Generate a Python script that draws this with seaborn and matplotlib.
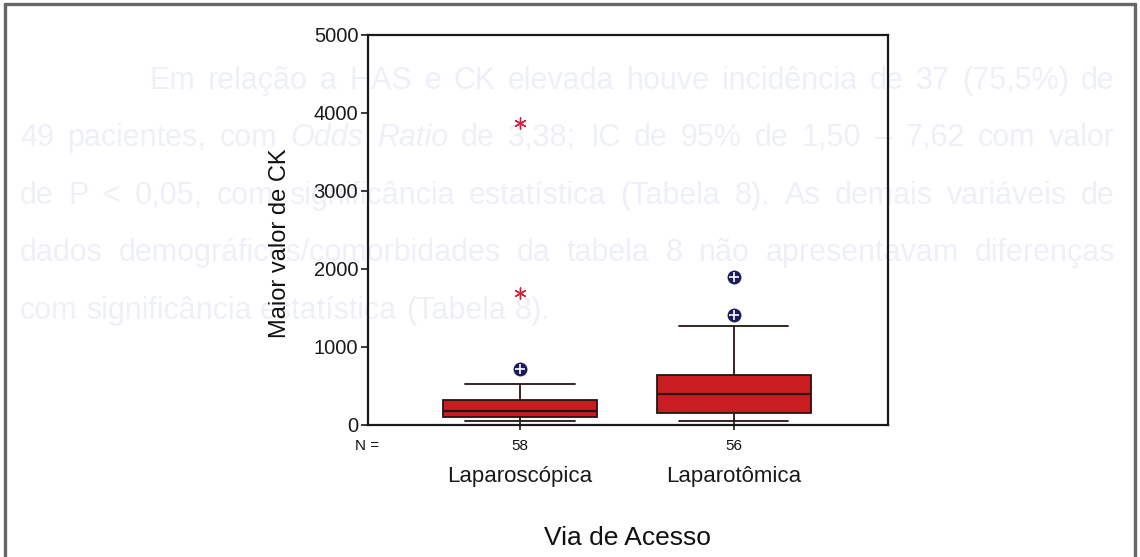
import matplotlib
matplotlib.use("Agg")
import matplotlib.pyplot as plt
import seaborn as sns
import pandas as pd
from matplotlib.lines import Line2D
from matplotlib.transforms import blended_transform_factory

# ---- data -------------------------------------------------------------
groups = ["Laparoscópica", "Laparotômica"]
group_n = [58, 56]
# lower whisker, lower hinge, median, upper hinge, upper whisker
lap_box = [50, 100, 180, 320, 525]
lpt_box = [45, 160, 395, 640, 1265]
# outliers (circles) and extreme values (asterisks)
lap_outliers = [715]
lap_extremes = [1690, 3870]
lpt_outliers = [1405, 1900]
lpt_extremes = []
y_ticks = [0, 1000, 2000, 3000, 4000, 5000]

page_lines = [
    "Em relação a HAS e CK elevada houve incidência de 37 (75,5%) de",
    "49 pacientes, com |Odds Ratio| de 3,38; IC de 95% de 1,50 – 7,62 com valor",
    "de P < 0,05, com significância estatística (Tabela 8). As demais variáveis de",
    "dados demográficos/comorbidades da tabela 8 não apresentavam diferenças",
    "com significância estatística (Tabela 8).",
]

# ---- styling ----------------------------------------------------------
sns.set_style("white")
plt.rcParams["font.family"] = ["Liberation Sans", "DejaVu Sans"]

W, H = 1140, 557
box_red = "#c81e22"
edge_dark = "#2a1212"
navy = "#1c1c5c"
star_red = "#d8203a"
ghost = "#eef0f8"
ghost_family = ["Liberation Sans Narrow", "Liberation Sans", "DejaVu Sans"]

fig = plt.figure(figsize=(W / 100, H / 100), dpi=100)
fig.patch.set_facecolor("white")

# faint page text behind the chart, justified between fixed margins
line_geom = [(150, 81, True), (20, 138, True), (20, 196, True),
             (20, 253, True), (20, 311, False)]
right_edge = 1115
renderer = fig.canvas.get_renderer()
probe_a = fig.text(0, 0, "a a", fontsize=22, family=ghost_family)
probe_b = fig.text(0, 0, "aa", fontsize=22, family=ghost_family)
space_w = (probe_a.get_window_extent(renderer).width
           - probe_b.get_window_extent(renderer).width)
probe_a.remove()
probe_b.remove()
for text, (x0, yc, justify) in zip(page_lines, line_geom):
    parts = []
    for chunk_i, chunk in enumerate(text.split("|")):
        for w in chunk.split():
            parts.append((w, "italic" if chunk_i % 2 == 1 else "normal"))
    arts = [fig.text(0, 1 - yc / H, w, fontsize=22, style=st, color=ghost,
                     va="center", ha="left", zorder=-5, family=ghost_family)
            for w, st in parts]
    widths = [a.get_window_extent(renderer).width for a in arts]
    if justify and len(parts) > 1:
        gap = (right_edge - x0 - sum(widths)) / (len(parts) - 1)
    else:
        gap = space_w
    x = x0
    for a, wd in zip(arts, widths):
        a.set_x(x / W)
        x += wd + gap

# page frame
frame_kw = dict(color="#666666", linewidth=2.4, transform=fig.transFigure)
fig.add_artist(Line2D([5 / W, 1135 / W], [1 - 4 / H, 1 - 4 / H], **frame_kw))
fig.add_artist(Line2D([5 / W, 5 / W], [0, 1 - 4 / H], **frame_kw))
fig.add_artist(Line2D([1135 / W, 1135 / W], [0, 1 - 4 / H], **frame_kw))

# ---- chart ------------------------------------------------------------
ax = fig.add_axes([368 / W, 1 - 425 / H, 520 / W, 390 / H])
ax.patch.set_alpha(0)

box_df = pd.DataFrame({
    "via": [groups[0]] * len(lap_box) + [groups[1]] * len(lpt_box),
    "ck": lap_box + lpt_box,
})
circ_df = pd.DataFrame({
    "via": [groups[0]] * len(lap_outliers) + [groups[1]] * len(lpt_outliers),
    "ck": lap_outliers + lpt_outliers,
})
star_df = pd.DataFrame({
    "via": [groups[0]] * len(lap_extremes) + [groups[1]] * len(lpt_extremes),
    "ck": lap_extremes + lpt_extremes,
})

sns.boxplot(data=box_df, x="via", y="ck", order=groups, ax=ax,
            width=0.72, color=box_red, saturation=1, linecolor=edge_dark,
            linewidth=1.3, showfliers=False, whis=1.5, capwidths=0.51,
            medianprops=dict(color=edge_dark, linewidth=1.6))

sns.stripplot(data=circ_df, x="via", y="ck", order=groups, ax=ax,
              jitter=False, marker="o", size=10, color=navy, linewidth=0,
              zorder=4)
sns.stripplot(data=circ_df, x="via", y="ck", order=groups, ax=ax,
              jitter=False, marker="+", size=7, color="white", linewidth=1.2,
              zorder=5)
sns.stripplot(data=star_df, x="via", y="ck", order=groups, ax=ax,
              jitter=False, marker=(6, 2, 0), size=8, color=star_red,
              linewidth=1.0, zorder=4)

ax.set_xlim(-0.71, 1.72)
ax.set_ylim(0, 5000)
ax.set_yticks(y_ticks)
ax.set_yticklabels([str(v) for v in y_ticks])
ax.set_xticks(range(len(groups)))
ax.set_xticklabels(groups)

for s in ax.spines.values():
    s.set_visible(True)
    s.set_color("#1a1a1a")
    s.set_linewidth(1.6)

ax.tick_params(axis="y", direction="out", length=5, width=1.2, pad=2,
               labelsize=14.5, colors="#1a1a1a", left=True)
ax.tick_params(axis="x", direction="inout", length=7, width=1.2, pad=26,
               labelsize=16, colors="#1a1a1a", bottom=True)

ax.set_ylabel("Maior valor de CK", fontsize=17, color="#111111", va="center")
ax.yaxis.set_label_coords(-0.169, 0.467)
ax.set_xlabel("Via de Acesso", fontsize=19, color="#111111", va="center")
ax.xaxis.set_label_coords(0.498, -0.29)

# case counts under each box
trans = blended_transform_factory(ax.transData, ax.transAxes)
ax.text(-0.002, -0.054, "N =", transform=ax.transAxes, ha="center",
        va="center", fontsize=11, color="#111111")
for i, n in enumerate(group_n):
    ax.text(i, -0.054, str(n), transform=trans, ha="center", va="center",
            fontsize=11, color="#111111")

fig.savefig("out.png", dpi=100, facecolor="white")
